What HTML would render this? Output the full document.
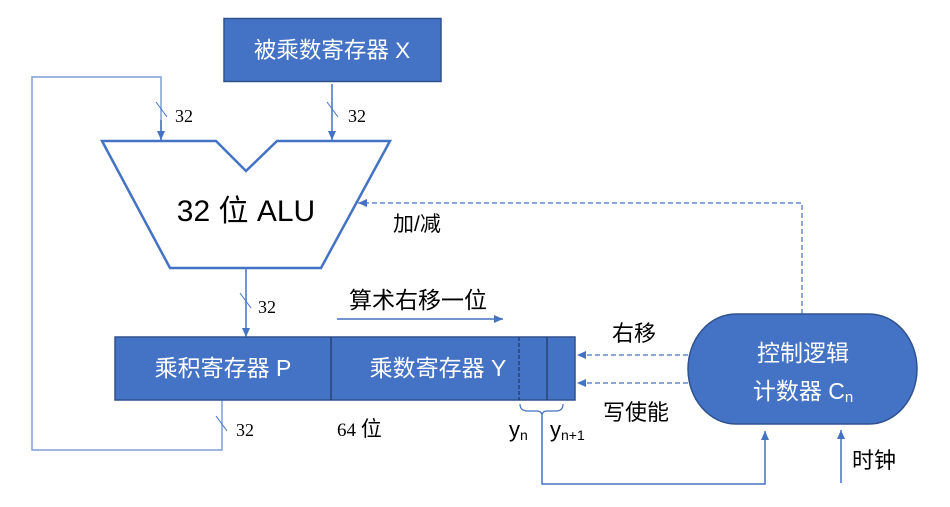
<!DOCTYPE html>
<html><head><meta charset="utf-8"><style>
html,body{margin:0;padding:0;background:#fff;}
svg{display:block;}
.cj{font-family:"Liberation Sans","Noto Sans CJK SC",sans-serif;}
.sf{font-family:"Liberation Serif",serif;}
</style></head><body>
<svg width="950" height="507" viewBox="0 0 950 507" xmlns="http://www.w3.org/2000/svg">
<defs>
<marker id="ah" markerWidth="10" markerHeight="10" refX="9" refY="5" orient="auto" markerUnits="userSpaceOnUse">
<path d="M0,1 L9,5 L0,9 Z" fill="#4472C4"/>
</marker>
</defs>
<rect x="0" y="0" width="950" height="507" fill="#fff"/>

<!-- top box -->
<rect x="224" y="18.5" width="217" height="63" fill="#4472C4" stroke="#2F528F" stroke-width="1.5"/>
<text x="332" y="58" class="cj" font-size="22.5" fill="#fff" text-anchor="middle">被乘数寄存器 X</text>

<!-- left loop -->
<polyline points="222,400 222,450 32,450 32,77 161,77 161,140" fill="none" stroke="#7F9FD6" stroke-width="1.5"/>
<line x1="161" y1="120" x2="161" y2="140" stroke="#4472C4" stroke-width="1.5" marker-end="url(#ah)"/>
<line x1="156" y1="102" x2="167" y2="117" stroke="#4472C4" stroke-width="1"/>
<text x="175" y="122" class="sf" font-size="18" fill="#000">32</text>

<!-- right input -->
<line x1="332" y1="84" x2="332" y2="140" stroke="#4472C4" stroke-width="1.5" marker-end="url(#ah)"/>
<line x1="327" y1="102" x2="338" y2="117" stroke="#4472C4" stroke-width="1"/>
<text x="348" y="122" class="sf" font-size="18" fill="#000">32</text>

<!-- ALU -->
<polygon points="102,141 216,141 246,171 277,141 390,141 321,268 170,268" fill="#fff" stroke="#4472C4" stroke-width="2.5" stroke-linejoin="miter"/>
<text x="246" y="221" class="cj" font-size="30" fill="#000" text-anchor="middle">32 位 ALU</text>

<!-- add/sub dashed -->
<polyline points="802,314 802,203 358,203" fill="none" stroke="#4472C4" stroke-width="1.2" stroke-dasharray="5,3" marker-end="url(#ah)"/>
<text x="393" y="231" class="cj" font-size="21" fill="#000">加/减</text>

<!-- ALU output -->
<line x1="246" y1="268" x2="246" y2="337" stroke="#4472C4" stroke-width="1.5" marker-end="url(#ah)"/>
<line x1="240" y1="293" x2="251" y2="308" stroke="#4472C4" stroke-width="1"/>
<text x="258" y="313" class="sf" font-size="18" fill="#000">32</text>

<!-- shift label -->
<text x="349" y="308" class="cj" font-size="23" fill="#000">算术右移一位</text>
<line x1="337" y1="319" x2="503" y2="319" stroke="#4472C4" stroke-width="1.5" marker-end="url(#ah)"/>

<!-- register -->
<rect x="115" y="337" width="460" height="63" fill="#4472C4" stroke="#2F528F" stroke-width="1.5"/>
<line x1="331" y1="337" x2="331" y2="400" stroke="#203864" stroke-width="1.2"/>
<line x1="519" y1="337" x2="519" y2="400" stroke="#203864" stroke-width="1.2" stroke-dasharray="4,2"/>
<line x1="547" y1="337" x2="547" y2="400" stroke="#203864" stroke-width="1.2"/>
<text x="223" y="376" class="cj" font-size="23" fill="#fff" text-anchor="middle">乘积寄存器 P</text>
<text x="438" y="376" class="cj" font-size="23" fill="#fff" text-anchor="middle">乘数寄存器 Y</text>

<!-- bottom feedback slash -->
<line x1="216" y1="416" x2="227" y2="431" stroke="#4472C4" stroke-width="1"/>
<text x="236" y="436" class="sf" font-size="18" fill="#000">32</text>
<text x="337" y="436" class="sf" font-size="19" fill="#000">64 <tspan class="cj" font-size="21" font-family="'Liberation Sans','Noto Sans CJK SC',sans-serif">位</tspan></text>

<!-- brace -->
<path d="M520,404 Q520,411 528,411 L537,411 Q542,411 542,416 Q542,411 547,411 L556,411 Q563,411 563,404" fill="none" stroke="#4472C4" stroke-width="1.2"/>
<polyline points="542,416 542,484 765,484 765,431" fill="none" stroke="#4472C4" stroke-width="1.5" marker-end="url(#ah)"/>
<text x="509" y="437" class="cj" font-size="22" fill="#000">y<tspan font-size="14" dy="3">n</tspan></text>
<text x="550" y="437" class="cj" font-size="22" fill="#000">y<tspan font-size="14" dy="3">n+1</tspan></text>

<!-- control dashed arrows -->
<line x1="688" y1="355" x2="577" y2="355" stroke="#4472C4" stroke-width="1.2" stroke-dasharray="5,3" marker-end="url(#ah)"/>
<line x1="688" y1="383" x2="577" y2="383" stroke="#4472C4" stroke-width="1.2" stroke-dasharray="5,3" marker-end="url(#ah)"/>
<text x="612" y="341" class="cj" font-size="22" fill="#000">右移</text>
<text x="603" y="420" class="cj" font-size="22" fill="#000">写使能</text>

<!-- control logic -->
<rect x="688" y="314" width="229" height="110" rx="48" ry="55" fill="#4472C4" stroke="#2F528F" stroke-width="1.5"/>
<text x="803" y="361" class="cj" font-size="23" fill="#fff" text-anchor="middle">控制逻辑</text>
<text x="803" y="399" class="cj" font-size="23" fill="#fff" text-anchor="middle">计数器 C<tspan font-size="15" dy="3">n</tspan></text>

<!-- clock -->
<line x1="841" y1="483" x2="841" y2="430" stroke="#4472C4" stroke-width="1.5" marker-end="url(#ah)"/>
<text x="852" y="468" class="cj" font-size="22" fill="#000">时钟</text>
</svg>
</body></html>
